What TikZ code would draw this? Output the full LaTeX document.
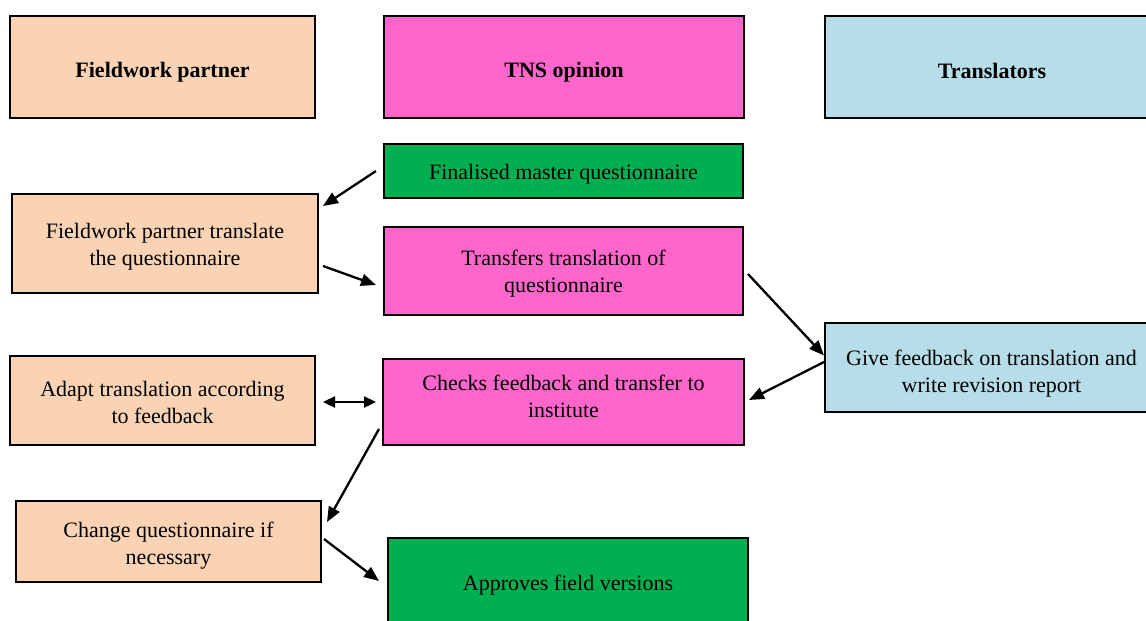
\documentclass[tikz,border=0pt]{standalone}
\usepackage{fontspec}
\setmainfont{Liberation Serif}
\usetikzlibrary{arrows.meta,calc}
\definecolor{peach}{HTML}{FAD3B4}
\definecolor{pinkbox}{HTML}{FF66CC}
\definecolor{greenbox}{HTML}{00B050}
\definecolor{bluebox}{HTML}{B6DDE8}
\begin{document}
\begin{tikzpicture}[x=1pt,y=-1pt,
  box/.style={draw=black,line width=2pt,rectangle,inner sep=0pt},
  lbl/.style={inner sep=0pt,align=center,font=\fontsize{22}{27}\selectfont},
  headlbl/.style={lbl,font=\fontsize{22}{27}\selectfont\bfseries},
  fp/.style={fill=peach},
  tns/.style={fill=pinkbox},
  gr/.style={fill=greenbox},
  tr/.style={fill=bluebox},
  flow/.style={line width=2.3pt,-{Triangle[length=15pt,width=12pt]}},
  both/.style={line width=2.3pt,{Triangle[length=12pt,width=11pt]}-{Triangle[length=12pt,width=11pt]}}]
\useasboundingbox (0,0) rectangle (1146,621);
\fill[white] (0,0) rectangle (1146,621);

% column headers
\node[box,fp,minimum width=305pt,minimum height=102pt] (hfp) at (162.5,67) {};
\node[box,tns,minimum width=360pt,minimum height=102pt] (htns) at (564,67) {};
\node[box,tr,minimum width=334pt,minimum height=102pt] (htr) at (992,67) {};
\node[headlbl] (hfp-t) at ($(hfp)+(0,5)$) {Fieldwork partner};
\node[headlbl] (htns-t) at ($(htns)+(0,5)$) {TNS opinion};
\node[headlbl] (htr-t) at ($(htr)+(0,4)$) {Translators};

% process steps
\node[box,gr,minimum width=359pt,minimum height=54pt] (master) at (563.5,171) {};
\node[box,fp,minimum width=306pt,minimum height=99pt] (fptrans) at (165,243.5) {};
\node[box,tns,minimum width=359pt,minimum height=88pt] (transfers) at (563.5,271) {};
\node[box,tr,minimum width=333pt,minimum height=89pt] (feedback) at (991.5,367.5) {};
\node[box,tns,minimum width=361pt,minimum height=86pt] (checks) at (563.5,402) {};
\node[box,fp,minimum width=305pt,minimum height=89pt] (adapt) at (162.5,400.5) {};
\node[box,fp,minimum width=305pt,minimum height=81pt] (change) at (168.5,541.5) {};
\node[box,gr,minimum width=360pt,minimum height=90pt] (approves) at (568,583) {};

\node[lbl] (master-t) at ($(master)+(0,3)$) {Finalised master questionnaire};
\node[lbl] (fptrans-t) at ($(fptrans)+(0,3.5)$) {Fieldwork partner translate\\the questionnaire};
\node[lbl] (transfers-t) at ($(transfers)+(0,3)$) {Transfers translation of\\questionnaire};
\node[lbl] (feedback-t) at ($(feedback)+(0,6)$) {Give feedback on translation and\\write revision report};
\node[lbl] (checks-t) at ($(checks)+(0,-5.5)$) {Checks feedback and transfer to\\institute};
\node[lbl] (adapt-t) at ($(adapt)+(0,1.5)$) {Adapt translation according\\to feedback};
\node[lbl] (change-t) at ($(change)+(0,4)$) {Change questionnaire if\\necessary};
\node[lbl] (approves-t) at ($(approves)+(0,2.5)$) {Approves field versions};

% connectors
\draw[flow] ($(master.west)+(-7,0)$) -- ($(fptrans.north east)+(4,13)$);
\draw[flow] ($(fptrans.east)+(4,22.5)$) -- ($(transfers.west)+(-7,14)$);
\draw[flow] ($(transfers.east)+(4,3)$) -- ($(feedback.west)+(0,-12)$);
\draw[flow] ($(feedback.west)+(0,-5.5)$) -- ($(checks.east)+(4,-2)$);
\draw[both] ($(adapt.east)+(7,1.5)$) -- ($(checks.west)+(-6,0)$);
\draw[flow] ($(checks.south west)+(-3,-17)$) -- ($(change.north east)+(5,22)$);
\draw[flow] ($(change.east)+(2,-2.5)$) -- ($(approves.west)+(-8,-2)$);
\end{tikzpicture}
\end{document}
